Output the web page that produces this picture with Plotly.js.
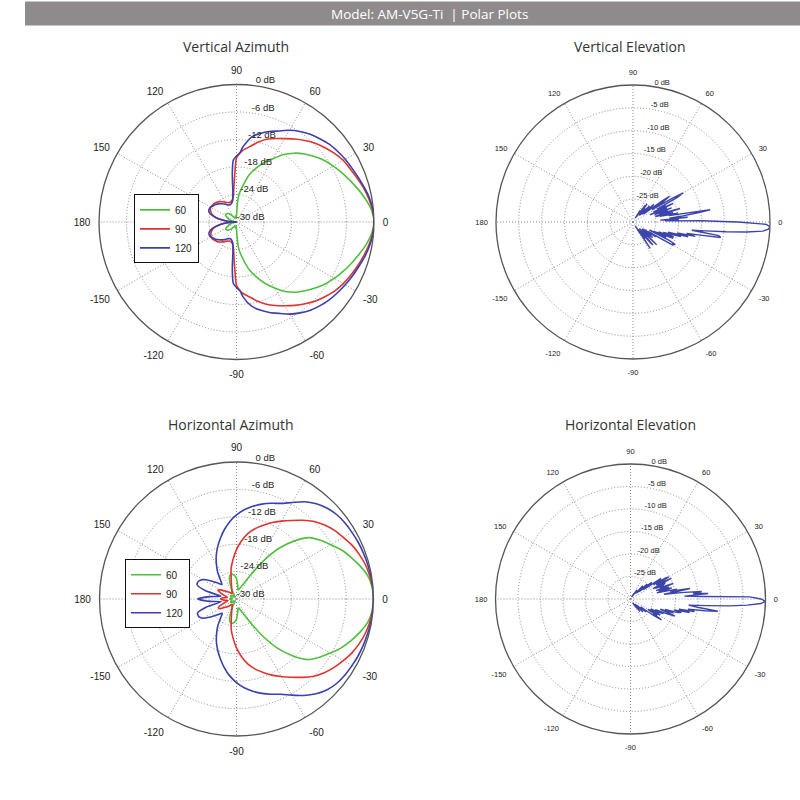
<!DOCTYPE html>
<html><head><meta charset="utf-8">
<script src="https://cdn.plot.ly/plotly-3.0.1.min.js"></script>
<style>html,body{margin:0;padding:0;background:#fff}#chart{width:800px;height:800px}</style>
</head><body><div id="chart"></div>
<script>
// ---------- labels ----------
const HEADER = 'Model: AM-V5G-Ti  | Polar Plots';
const TITLES = ['Vertical Azimuth', 'Vertical Elevation', 'Horizontal Azimuth', 'Horizontal Elevation'];
const SERIES_NAMES = ['60', '90', '120'];
const ANG_TICKS = [0, 30, 60, 90, 120, 150, 180, 210, 240, 270, 300, 330];
const ANG_LABELS = ['0', '30', '60', '90', '120', '150', '180', '-150', '-120', '-90', '-60', '-30'];
const AZ_RTICKS = [0, -6, -12, -18, -24, -30];
const AZ_RLABELS = ['0 dB', '-6 dB', '-12 dB', '-18 dB', '-24 dB', '-30 dB'];
const EL_RTICKS = [0, -5, -10, -15, -20, -25];
const EL_RLABELS = ['0 dB', '-5 dB', '-10 dB', '-15 dB', '-20 dB', '-25 dB'];

// ---------- Vertical Azimuth (deg, dB) ----------
const VA_THETA = [-180,-175,-170,-165,-160,-155,-150,-145,-140,-135,-130,-125,-120,-115,-110,-105,-100,-97,-95,-93,-90,-87,-85,-80,-75,-70,-65,-60,-55,-50,-45,-40,-35,-30,-25,-20,-15,-10,-5,
 0,5,10,15,20,25,30,35,40,45,50,55,60,65,70,75,80,85,87,90,93,95,97,100,105,110,115,120,125,130,135,140,145,150,155,160,165,170,175,180];
const VA_60 = [-29.8,-29.6,-29.3,-28.9,-28.4,-27.9,-27.4,-27.2,-27.3,-27.5,-27.9,-28.4,-28.8,-29.0,-29.1,-28.9,-28.7,-28.8,-29.0,-29.0,-28.5,-26.0,-24.0,-21.8,-19.2,-17.2,-15.2,-13.4,-11.5,-10.0,-8.8,-7.6,-6.4,-5.4,-4.4,-3.4,-2.4,-1.3,-0.4,
 0,-0.4,-1.4,-2.5,-3.6,-4.6,-5.6,-6.6,-7.8,-9.0,-10.4,-12.0,-14.0,-15.6,-17.5,-19.4,-22.0,-24.0,-26.0,-28.5,-29.0,-29.0,-28.8,-28.7,-28.9,-29.1,-29.0,-28.8,-28.3,-27.8,-27.4,-27.2,-27.1,-27.3,-27.8,-28.3,-28.8,-29.3,-29.6,-29.8];
const VA_90 = [-30.0,-28.0,-26.0,-24.8,-24.2,-23.8,-23.6,-23.6,-23.8,-24.0,-24.3,-24.7,-25.1,-25.4,-25.6,-25.5,-25.1,-24.4,-23.2,-21.0,-16.2,-15.0,-14.4,-13.4,-12.1,-10.9,-9.9,-8.9,-7.8,-6.7,-5.6,-4.7,-3.8,-3.1,-2.5,-1.9,-1.3,-0.7,-0.2,
 0,-0.2,-0.7,-1.3,-2.0,-2.6,-3.1,-3.9,-4.8,-5.7,-6.8,-7.9,-9.0,-9.9,-10.8,-12.0,-13.3,-14.3,-14.9,-16.0,-21.0,-23.0,-24.3,-25.0,-25.4,-25.5,-25.3,-25.0,-24.6,-24.2,-23.9,-23.7,-23.6,-23.5,-23.7,-24.1,-24.8,-26.0,-28.0,-30.0];
const VA_120 = [-30.0,-28.0,-26.0,-24.5,-23.7,-23.4,-23.5,-23.8,-24.1,-24.5,-24.9,-25.3,-25.7,-26.0,-26.1,-25.9,-25.3,-23.6,-19.5,-16.6,-15.7,-14.9,-13.6,-11.4,-10.1,-9.0,-8.0,-6.8,-5.8,-4.9,-4.2,-3.6,-3.1,-2.6,-2.1,-1.6,-1.0,-0.5,-0.1,
 0,-0.1,-0.5,-1.1,-1.7,-2.2,-2.6,-3.1,-3.6,-4.3,-5.0,-5.9,-6.9,-8.1,-9.0,-10.0,-11.2,-13.5,-14.8,-15.6,-16.5,-19.5,-23.5,-25.2,-25.8,-26.0,-25.9,-25.6,-25.2,-24.8,-24.4,-24.1,-23.8,-23.5,-23.4,-23.6,-24.5,-26.0,-28.0,-30.0];

// ---------- Horizontal Azimuth (deg, dB) ----------
const HA_THETA = [-180,-175,-170,-165,-160,-155,-150,-145,-140,-135,-130,-125,-120,-115,-110,-105,-100,-95,-90,-85,-80,-75,-70,-65,-60,-55,-50,-45,-40,-35,-30,-25,-20,-15,-10,-5,
 0,5,10,15,20,25,30,35,40,45,50,55,60,65,70,75,80,85,90,95,100,105,110,115,120,125,130,135,140,145,150,155,160,165,170,175,180];
const HA_60 = [-28.5,-28.7,-29.0,-29.0,-28.8,-28.6,-28.5,-28.7,-29.0,-29.3,-29.5,-29.5,-29.0,-27.6,-25.6,-24.7,-24.6,-24.9,-25.6,-27.0,-28.0,-27.9,-27.3,-26.4,-24.4,-20.3,-15.8,-12.3,-9.4,-7.8,-6.3,-4.7,-3.3,-2.0,-0.8,-0.2,
 0,-0.2,-0.8,-2.0,-3.3,-4.6,-6.2,-7.6,-9.1,-12.0,-15.5,-20.0,-24.2,-26.3,-27.2,-27.8,-28.0,-27.0,-25.5,-24.8,-24.5,-24.6,-25.5,-27.5,-29.0,-29.5,-29.5,-29.3,-29.0,-28.7,-28.5,-28.6,-28.8,-29.0,-29.0,-28.7,-28.5];
const HA_90 = [-26.5,-27.2,-28.1,-27.6,-26.6,-25.6,-25.8,-26.8,-27.4,-28.0,-28.5,-28.4,-28.1,-27.6,-26.9,-25.6,-23.3,-21.4,-19.3,-17.3,-15.5,-14.1,-12.9,-11.6,-10.4,-9.1,-7.6,-6.1,-4.9,-3.9,-3.0,-2.1,-1.4,-0.8,-0.4,-0.1,
 0,-0.1,-0.4,-0.8,-1.4,-2.1,-3.0,-3.8,-4.8,-6.0,-7.5,-9.0,-10.3,-11.5,-12.8,-14.0,-15.4,-17.2,-19.2,-21.3,-23.2,-25.5,-26.8,-27.5,-28.0,-28.3,-28.5,-28.0,-27.5,-27.0,-26.0,-25.5,-26.5,-27.5,-28.0,-27.0,-26.5];
const HA_120 = [-21.5,-24.1,-26.6,-23.2,-20.9,-20.9,-21.6,-23.1,-24.6,-25.6,-24.6,-22.9,-21.3,-19.6,-18.0,-16.4,-14.7,-13.1,-11.7,-10.5,-9.5,-8.6,-7.8,-7.0,-5.7,-4.2,-2.9,-1.9,-1.3,-1.0,-0.8,-0.6,-0.45,-0.3,-0.15,-0.05,
 0,-0.05,-0.15,-0.3,-0.45,-0.6,-0.8,-1.0,-1.3,-1.9,-2.8,-4.0,-5.6,-6.9,-7.7,-8.5,-9.4,-10.4,-11.6,-13.0,-14.6,-16.3,-17.9,-19.5,-21.2,-22.8,-24.5,-25.5,-24.5,-23.0,-21.5,-20.8,-20.8,-23.0,-26.5,-24.0,-21.5];

// ---------- Elevation (deg, dB), -60..60 ----------
const EL_THETA = [-60,-59,-58,-57,-56,-55,-54,-53,-52,-51,-50,-49,-48,-47,-46,-45,-44,-43,-42,-41,-40,-39,-38,-37,-36,-35,-34,-33,-32,-31,-30,-29,-28,-27,-26,-25,-24,-23,-22,-21,-20,-19,-18,-17,-16,-15,-14,-13,-12,-11,-10,-9,-8,-7,-6,-5,-4,-3,-2,-1,
 0,1,2,3,4,5,6,7,8,9,10,11,12,13,14,15,16,17,18,19,20,21,22,23,24,25,26,27,28,29,30,31,32,33,34,35,36,37,38,39,40,41,42,43,44,45,46,47,48,49,50,51,52,53,54,55,56,57,58,59,60];
const VE_DB = [-29.0,-27.0,-28.5,-23.1,-27.5,-25.5,-28.0,-26.5,-27.5,-26.0,-24.0,-23.3,-27.0,-25.5,-26.0,-28.0,-22.8,-25.5,-25.5,-27.5,-27.0,-25.0,-24.5,-27.0,-27.5,-25.0,-27.0,-24.0,-26.0,-23.0,-19.8,-20.0,-19.5,-21.0,-26.0,-22.0,-25.0,-23.0,-20.5,-24.0,-20.5,-23.0,-21.5,-19.0,-22.0,-17.5,-20.0,-16.0,-18.0,-15.0,-10.5,-11.0,-17.0,-14.0,-9.5,-5.0,-1.5,-0.3,0.0,-0.8,
 -7.0,-15.0,-23.0,-20.0,-24.0,-18.0,-22.0,-19.0,-15.9,-12.9,-22.0,-20.0,-24.0,-21.0,-25.0,-23.0,-19.3,-24.0,-22.0,-25.0,-21.0,-24.5,-22.0,-26.0,-23.0,-20.3,-25.0,-22.0,-24.0,-19.0,-17.3,-20.0,-23.0,-25.0,-22.0,-20.2,-22.0,-27.0,-27.0,-25.5,-24.0,-27.0,-27.5,-26.0,-25.0,-27.0,-28.0,-27.0,-26.0,-27.5,-28.0,-26.5,-25.0,-26.5,-25.5,-28.0,-28.5,-27.5,-27.0,-28.5,-29.0];
const HE_DB = [-29.0,-28.5,-29.0,-28.0,-28.5,-27.5,-28.0,-26.5,-28.0,-27.5,-28.0,-27.0,-28.5,-27.0,-26.0,-27.5,-28.0,-27.5,-26.5,-27.0,-25.5,-27.0,-27.0,-26.0,-25.0,-23.5,-21.7,-24.0,-23.0,-25.5,-25.0,-23.0,-22.5,-24.5,-25.0,-23.0,-22.0,-24.0,-21.0,-19.4,-21.0,-23.0,-20.0,-22.0,-19.0,-18.3,-20.0,-16.5,-19.0,-15.5,-17.0,-13.3,-10.4,-15.0,-17.0,-13.0,-8.0,-4.0,-1.0,0.0,
 -1.0,-3.5,-14.0,-18.0,-12.7,-16.0,-14.1,-18.0,-22.5,-20.0,-16.6,-21.0,-19.5,-24.0,-22.0,-20.5,-23.5,-21.0,-24.0,-22.5,-19.9,-23.0,-22.0,-24.0,-21.5,-24.5,-22.0,-19.8,-23.0,-23.5,-20.2,-21.0,-24.0,-23.0,-21.8,-25.0,-26.5,-25.5,-24.0,-26.0,-27.5,-26.5,-25.0,-27.0,-28.0,-28.0,-27.0,-26.0,-27.5,-28.0,-27.5,-28.0,-28.5,-27.5,-28.5,-28.0,-29.0,-28.5,-29.0,-29.5,-29.0];

// ---------- styles ----------
const COLORS = ['#4fbf3d', '#df3330', '#3a40ad'];
const EL_COLOR = '#3c45aa';
const FONT_L = 'Liberation Sans, Arial, sans-serif';
const TITLE_FONT = 'Open Sans, Noto Sans, sans-serif';
const GRID_DASH = '1px,2px';

const traces = [];
function azTraces(theta, seriesList, subplot, legendId) {
  seriesList.forEach((vals, i) => {
    traces.push({
      type: 'scatterpolar', mode: 'lines', subplot: subplot, legend: legendId,
      name: SERIES_NAMES[i], r: vals, theta: theta,
      line: {color: COLORS[i], width: 1.6, shape: 'spline', smoothing: 0.6},
      hoverinfo: 'skip'
    });
  });
}
function elTrace(theta, vals, subplot) {
  traces.push({
    type: 'scatterpolar', mode: 'lines', subplot: subplot, showlegend: false,
    r: vals, theta: theta, line: {color: EL_COLOR, width: 1.4}, hoverinfo: 'skip'
  });
}
function rLabelTrace(ticks, labels, subplot, ang, size) {
  traces.push({
    type: 'scatterpolar', mode: 'text', subplot: subplot, showlegend: false,
    r: ticks, theta: ticks.map(() => ang), text: labels,
    textposition: 'top right', textfont: {family: FONT_L, size: size, color: '#222'},
    hoverinfo: 'skip', cliponaxis: false
  });
}

azTraces(VA_THETA, [VA_60, VA_90, VA_120], 'polar', 'legend');
elTrace(EL_THETA, VE_DB, 'polar2');
azTraces(HA_THETA, [HA_60, HA_90, HA_120], 'polar3', 'legend2');
elTrace(EL_THETA, HE_DB, 'polar4');
rLabelTrace(AZ_RTICKS, AZ_RLABELS, 'polar', 82, 9.5);
rLabelTrace(EL_RTICKS, EL_RLABELS, 'polar2', 81, 7.5);
rLabelTrace(AZ_RTICKS, AZ_RLABELS, 'polar3', 82, 9.5);
rLabelTrace(EL_RTICKS, EL_RLABELS, 'polar4', 81, 7.5);

function polarCfg(dx, dy, rticks, fsize) {
  return {
    domain: {x: dx, y: dy},
    bgcolor: 'rgba(0,0,0,0)',
    angularaxis: {
      tickmode: 'array', tickvals: ANG_TICKS, ticktext: ANG_LABELS,
      direction: 'counterclockwise', rotation: 0,
      showline: true, linecolor: '#555', linewidth: 1.3,
      showgrid: true, gridcolor: '#8a8a8a', gridwidth: 1, griddash: GRID_DASH,
      ticks: 'outside', ticklen: 6, tickcolor: 'rgba(0,0,0,0)',
      tickfont: {family: FONT_L, size: fsize, color: '#222'}
    },
    radialaxis: {
      range: [-30, 0], tickmode: 'array', tickvals: rticks, showticklabels: false,
      ticks: '', showline: false, angle: 90,
      showgrid: true, gridcolor: '#8a8a8a', gridwidth: 1, griddash: GRID_DASH
    }
  };
}

const legendCommon = {
  xanchor: 'left', yanchor: 'top', bgcolor: '#fff', bordercolor: '#111', borderwidth: 1,
  font: {family: FONT_L, size: 10, color: '#222'}, tracegroupgap: 0, itemwidth: 30
};

function title(text, px, py, size, color) {
  return {text: text, xref: 'paper', yref: 'paper', x: px / 800, y: 1 - py / 800,
          xanchor: 'center', yanchor: 'middle', showarrow: false,
          font: {family: TITLE_FONT, size: size, color: color}};
}

const layout = {
  width: 800, height: 800, autosize: false,
  margin: {l: 0, r: 0, t: 0, b: 0},
  paper_bgcolor: '#fff',
  showlegend: true,
  polar: polarCfg([0.12375, 0.4675], [0.550625, 0.894375], AZ_RTICKS, 10),
  polar2: polarCfg([0.62, 0.9625], [0.55125, 0.89375], EL_RTICKS, 7.5),
  polar3: polarCfg([0.124375, 0.466875], [0.08, 0.4225], AZ_RTICKS, 10),
  polar4: polarCfg([0.619375, 0.956875], [0.0825, 0.42], EL_RTICKS, 7.5),
  legend: Object.assign({x: 0.1675, y: 0.757}, legendCommon),
  legend2: Object.assign({x: 0.15625, y: 0.301}, legendCommon),
  shapes: [{type: 'rect', xref: 'paper', yref: 'paper', x0: 0.03125, x1: 1, y0: 0.968, y1: 0.998,
            fillcolor: '#8f8b8c', line: {width: 0}, layer: 'below'}],
  annotations: [
    title(HEADER, 429, 14, 13.5, '#fff'),
    title(TITLES[0], 236, 47, 14, '#333'),
    title(TITLES[1], 630, 47, 14, '#333'),
    title(TITLES[2], 231, 424, 14, '#333'),
    title(TITLES[3], 630, 424, 14, '#333')
  ]
};

Plotly.newPlot('chart', traces, layout, {staticPlot: true, displayModeBar: false});
</script></body></html>
